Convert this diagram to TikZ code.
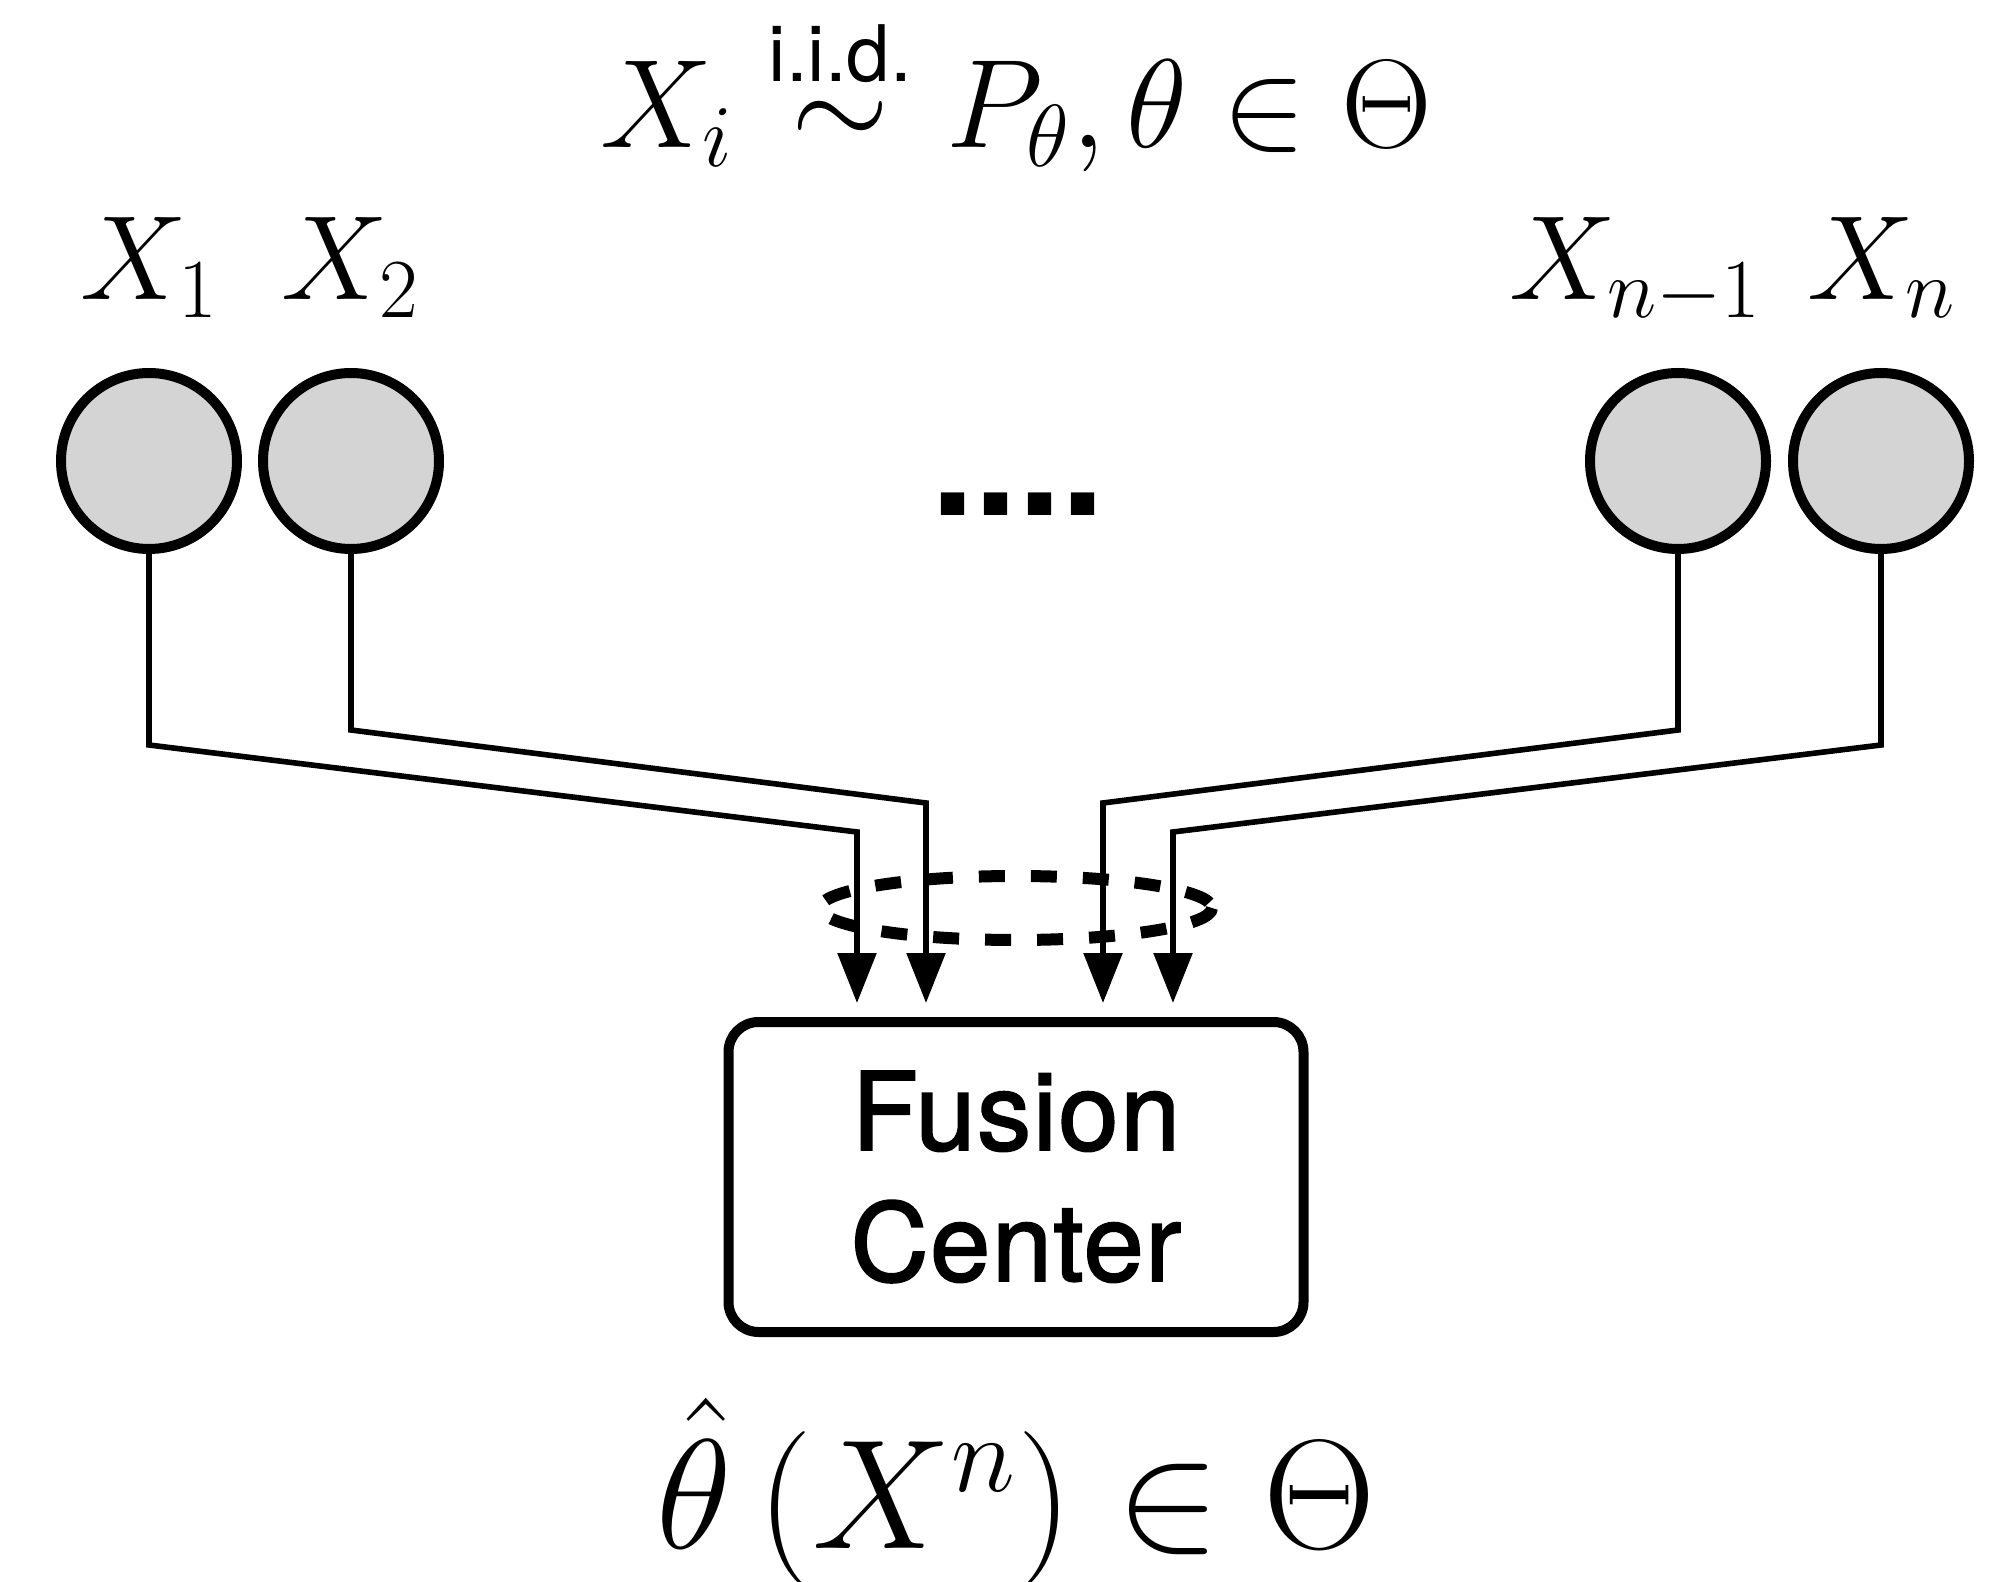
\RequirePackage{fix-cm}
\documentclass[tikz,border=0pt]{standalone}
\usepackage{amsmath}
\usepackage{fontspec}
\setsansfont{TeX Gyre Heros}
\newfontfamily\fcfont{TeX Gyre Heros}[FakeBold=1.8, LetterSpace=1.5]
\usetikzlibrary{arrows.meta}
\definecolor{nodegray}{RGB}{212,212,212}
\tikzset{
  sensor/.style={circle, draw=black, fill=nodegray, line width=2.5pt, minimum size=44pt, inner sep=0pt},
  lab/.style={inner sep=0pt, anchor=base, font=\fontsize{30}{36}\selectfont},
  conn/.style={line width=1.4pt, line join=miter, -{Triangle[length=12.5pt,width=9.5pt]}, shorten >=3.5pt},
  fusion/.style={draw=black, line width=2.5pt, rounded corners=7.5pt, minimum width=143.75pt, minimum height=77.5pt, inner sep=0pt, align=center, font=\fontsize{27}{32.75}\selectfont\fcfont},
  ring/.style={line width=3pt, dash pattern=on 6.5pt off 6.5pt}
}
\begin{document}
\begin{tikzpicture}[x=0.25pt, y=-0.25pt]
\useasboundingbox (0,0) rectangle (1993,1582);
% title
\node[inner sep=0pt, anchor=base, font=\fontsize{31.5}{38}\selectfont] (title) at (1016,148)
  {$X_i \overset{\text{\fontsize{19.5}{20}\selectfont\sffamily i.i.d.}}{\sim} P_\theta, \theta \in \Theta$};
% sensors
\node[sensor] (c1) at (149,461) {};
\node[sensor] (c2) at (351,461) {};
\node[sensor] (c3) at (1678,461) {};
\node[sensor] (c4) at (1881,461) {};
\node[lab] (l1) at (150,300) {$X_1$};
\node[lab] (l2) at (351,300) {$X_2$};
\node[lab] (l3) at (1636,300) {$X_{n-1}$};
\node[lab] (l4) at (1882,300) {$X_n$};
\node[inner sep=0pt, anchor=base, font=\fontsize{38.7}{40}\selectfont\sffamily\bfseries] (dots) at (1018,516) {....};
% fusion center
\node[fusion] (fc) at (1016,1177) {Fusion\\Center};
% dashed ring
\draw[ring] (1016,908) ellipse [x radius=196, y radius=32];
% bends
\coordinate (a1) at (149,745);  \coordinate (b1) at (857,832);
\coordinate (a2) at (351,730);  \coordinate (b2) at (926,803);
\coordinate (a3) at (1678,730); \coordinate (b3) at (1103,803);
\coordinate (a4) at (1881,745); \coordinate (b4) at (1173,832);
\draw[conn] (c1.south) -- (a1) -- (b1) -- (b1 |- fc.north);
\draw[conn] (c2.south) -- (a2) -- (b2) -- (b2 |- fc.north);
\draw[conn] (c3.south) -- (a3) -- (b3) -- (b3 |- fc.north);
\draw[conn] (c4.south) -- (a4) -- (b4) -- (b4 |- fc.north);
% estimate
\node[inner sep=0pt, anchor=base, font=\fontsize{39}{46}\selectfont] (est) at (1016,1548)
  {$\hat{\theta}\left(X^n\right) \in \Theta$};
\end{tikzpicture}
\end{document}
